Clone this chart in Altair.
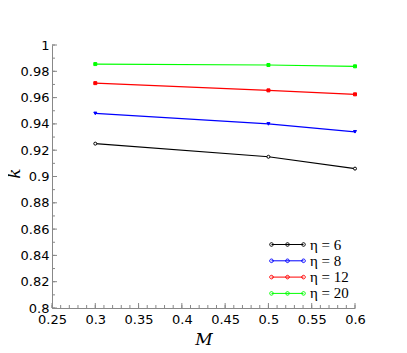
import altair as alt
import pandas as pd

# data
M = [0.3, 0.5, 0.6]
k_eta6 = [0.925, 0.915, 0.906]
k_eta8 = [0.948, 0.940, 0.934]
k_eta12 = [0.971, 0.9655, 0.9625]
k_eta20 = [0.9855, 0.9848, 0.9838]
eta_values = ["6", "8", "12", "20"]
labels = ["η = 6", "η = 8", "η = 12", "η = 20"]
colors = ["black", "#0000ff", "#ff0000", "#00ff00"]
fills = ["white", "#0000ff", "#ff0000", "#00ff00"]
shapes = ["circle", "triangle-down", "square", "square"]
x_major = [0.25, 0.3, 0.35, 0.4, 0.45, 0.5, 0.55, 0.6]
y_major = [0.8, 0.82, 0.84, 0.86, 0.88, 0.9, 0.92, 0.94, 0.96, 0.98, 1.0]
x_minor = [round(0.25 + 0.01 * i, 2) for i in range(36)]
y_minor = [round(0.8 + 0.01 * i, 2) for i in range(21)]

rows = []
for lab, ev, ks in zip(labels, eta_values, [k_eta6, k_eta8, k_eta12, k_eta20]):
    for m, k in zip(M, ks):
        rows.append({"M": m, "k": k, "eta": lab, "series": ev})
df = pd.DataFrame(rows)

xs = alt.Scale(domain=[0.25, 0.6], nice=False, zero=False)
ys = alt.Scale(domain=[0.8, 1.0], nice=False, zero=False)

legend_path = ("M-4,0L4,0 "
               "M-3.55,0A0.45,0.45 0 1,0 -4.45,0A0.45,0.45 0 1,0 -3.55,0 "
               "M0.45,0A0.45,0.45 0 1,0 -0.45,0A0.45,0.45 0 1,0 0.45,0 "
               "M4.45,0A0.45,0.45 0 1,0 3.55,0A0.45,0.45 0 1,0 4.45,0")

x_axis = alt.Axis(
    values=x_major, format="~g", ticks=False, tickSize=0, grid=False,
    labelFont="DejaVu Sans", labelFontSize=13, labelColor="black",
    labelPadding=5, labelFlush=False, domainColor="#888888",
    title="M", titleFont="DejaVu Serif", titleFontStyle="italic",
    titleFontWeight="normal", titleFontSize=17, titlePadding=5, titleColor="black")
y_axis = alt.Axis(
    values=y_major, format="~g", ticks=False, tickSize=0, grid=False,
    labelFont="DejaVu Sans", labelFontSize=13, labelColor="black",
    labelPadding=3, labelFlush=False, domainColor="#888888",
    title="k", titleFont="DejaVu Serif", titleFontStyle="italic",
    titleFontWeight="normal", titleFontSize=17, titleX=-29, titleY=128,
    titleColor="black")

lines = alt.Chart(df).mark_line(strokeWidth=1.2).encode(
    x=alt.X("M:Q", scale=xs, axis=x_axis),
    y=alt.Y("k:Q", scale=ys, axis=y_axis),
    color=alt.Color("eta:N", scale=alt.Scale(domain=labels, range=colors),
                    legend=alt.Legend(
                        title=None, orient="none", legendX=228, legendY=192,
                        padding=0, symbolType=legend_path, symbolSize=64,
                        symbolStrokeWidth=1, labelOffset=15,
                        labelFont="Liberation Serif", labelFontSize=15,
                        labelColor="black", rowPadding=0.3)),
    order="M:Q",
)

points = alt.Chart(df).mark_point(size=9, strokeWidth=1, opacity=1).encode(
    x=alt.X("M:Q", scale=xs, axis=x_axis),
    y=alt.Y("k:Q", scale=ys, axis=y_axis),
    shape=alt.Shape("series:N", scale=alt.Scale(domain=eta_values, range=shapes), legend=None),
    fill=alt.Fill("series:N", scale=alt.Scale(domain=eta_values, range=fills), legend=None),
    stroke=alt.Stroke("series:N", scale=alt.Scale(domain=eta_values, range=colors), legend=None),
)

xmaj_df = pd.DataFrame({"t": x_major})
xmin_df = pd.DataFrame({"t": x_minor})
ymaj_df = pd.DataFrame({"t": y_major})
ymin_df = pd.DataFrame({"t": y_minor})


def xticks(d, length):
    return alt.Chart(d).mark_rule(color="#888888", strokeWidth=1).encode(
        x=alt.X("t:Q", scale=xs, axis=x_axis),
        y=alt.value(263), y2=alt.value(263 - length))


def yticks(d, length):
    return alt.Chart(d).mark_rule(color="#888888", strokeWidth=1).encode(
        y=alt.Y("t:Q", scale=ys, axis=y_axis),
        x=alt.value(0), x2=alt.value(length))


chart = alt.layer(
    lines, points,
    xticks(xmaj_df, 5), xticks(xmin_df, 3), yticks(ymaj_df, 5), yticks(ymin_df, 3),
).properties(
    width=303, height=263,
    autosize=alt.AutoSizeParams(type="none"),
    padding={"left": 44, "top": 37, "right": 40, "bottom": 40},
).configure_view(stroke=None)

chart.save("out.html", embed_options={"renderer": "svg", "actions": False})
